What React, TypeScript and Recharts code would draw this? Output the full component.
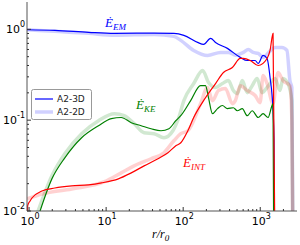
import React from 'react';
import { LineChart, Line, XAxis, YAxis } from 'recharts';

// r / r0 and power for each run (3D = thin, 2D = thick pale)
const R_EM_3D = [0.94, 2.16, 5.92, 12.8, 41.9, 75.7, 102, 154, 184, 227, 263, 375, 551, 678, 859, 940, 1089, 1227, 1341, 1466, 1510, 1530];
const E_EM_3D = [0.99, 0.975, 0.927, 0.903, 0.91, 0.903, 0.859, 0.718, 0.683, 0.796, 0.718, 0.617, 0.491, 0.454, 0.454, 0.421, 0.516, 0.478, 0.295, 0.127, 0.0593, 0.001];

const R_EM_2D = [0.94, 2.16, 5.92, 12.8, 41.9, 75.7, 93.1, 137, 207, 305, 386, 480, 603, 700, 810, 940, 1089, 1300, 1555, 1914, 2220, 2427, 2573, 2690];
const E_EM_2D = [0.99, 0.95, 0.903, 0.859, 0.88, 0.837, 0.756, 0.586, 0.516, 0.557, 0.557, 0.52, 0.557, 0.6, 0.557, 0.543, 0.491, 0.56, 0.633, 0.633, 0.586, 0.273, 0.229, 0.001];

const R_KE_3D = [1.35, 1.98, 2.91, 4.81, 7.96, 11.7, 15.7, 21.2, 28.5, 38.3, 51.5, 65.3, 80.3, 93.1, 125, 168, 195, 213, 240, 279, 323, 375, 448, 504, 585, 678, 787, 940, 1089, 1264, 1422, 1466, 1510];
const E_KE_3D = [0.0093, 0.0226, 0.0385, 0.0641, 0.0869, 0.104, 0.107, 0.0938, 0.0869, 0.0805, 0.0765, 0.0805, 0.0987, 0.112, 0.164, 0.24, 0.24, 0.177, 0.118, 0.134, 0.145, 0.134, 0.137, 0.127, 0.134, 0.112, 0.127, 0.107, 0.118, 0.107, 0.145, 0.152, 0.001];

const R_KE_2D = [1.27, 1.98, 2.91, 4.81, 7.96, 12.8, 17.2, 23.1, 31.1, 41.9, 56.3, 73.5, 87.7, 102, 137, 179, 213, 263, 323, 386, 448, 504, 585, 678, 787, 912, 1057, 1227, 1555, 1803, 1972, 2286, 2573, 2690];
const E_KE_2D = [0.0093, 0.0244, 0.0427, 0.071, 0.0987, 0.118, 0.112, 0.0915, 0.0728, 0.071, 0.0641, 0.0765, 0.107, 0.164, 0.253, 0.352, 0.26, 0.229, 0.253, 0.273, 0.212, 0.196, 0.273, 0.201, 0.24, 0.288, 0.201, 0.229, 0.288, 0.212, 0.288, 0.253, 0.164, 0.001];

const R_INT_3D = [0.94, 0.96, 1.03, 1.09, 1.47, 2.16, 3.58, 5.92, 8.7, 14.4, 21.2, 31.1, 47.1, 63.4, 80.3, 93.1, 115, 137, 184, 263, 333, 435, 551, 603, 741, 940, 1227, 1341, 1466, 1575];
const E_INT_3D = [0.005, 0.0115, 0.0129, 0.0139, 0.0166, 0.0179, 0.0189, 0.0194, 0.0204, 0.0226, 0.0263, 0.0314, 0.0376, 0.0438, 0.0523, 0.0564, 0.0765, 0.107, 0.164, 0.253, 0.335, 0.38, 0.478, 0.478, 0.454, 0.4, 0.478, 0.586, 0.903, 0.001];

const R_INT_2D = [0.94, 1.47, 3.58, 9.51, 15.7, 23.1, 38.3, 56.3, 75.7, 93.1, 115, 168, 207, 240, 287, 353, 435, 475, 551, 678, 859, 997, 1089, 1227, 1466, 1700, 1972, 2427, 2573, 2690];
const E_INT_2D = [0.0136, 0.0154, 0.0175, 0.021, 0.0263, 0.0314, 0.0376, 0.0438, 0.0593, 0.071, 0.0765, 0.152, 0.229, 0.164, 0.212, 0.223, 0.152, 0.164, 0.24, 0.212, 0.187, 0.156, 0.31, 0.253, 0.152, 0.335, 0.273, 0.24, 0.0987, 0.001];

const X_MAJOR = [1, 10, 100, 1000];
const X_MINOR = [2, 3, 4, 5, 6, 7, 8, 9, 20, 30, 40, 50, 60, 70, 80, 90, 200, 300, 400, 500, 600, 700, 800, 900, 2000];
const Y_MAJOR = [0.01, 0.1, 1];
const Y_MINOR = [0.02, 0.03, 0.04, 0.05, 0.06, 0.07, 0.08, 0.09, 0.2, 0.3, 0.4, 0.5, 0.6, 0.7, 0.8, 0.9];

const LEGEND = ['A2-3D', 'A2-2D'];

const pts = (r: number[], e: number[]) => r.map((v, i) => ({ r: v, e: e[i] }));

const BLUE = '#0000ff';
const GREEN = '#008000';
const RED = '#ff0000';
const PALE = 0.18;

const Tick = (props: any) => {
  const { x, y, payload, side, majors } = props;
  const v = payload.value;
  const major = majors.includes(v);
  const len = major ? 4 : 2;
  const exp = Math.round(Math.log10(v));
  const lbl = (
    <>
      10<tspan dy={-6} fontSize={8}>{exp}</tspan>
    </>
  );
  if (side === 'bottom') {
    return (
      <g>
        <line x1={x} y1={y} x2={x} y2={y - len} stroke="#333" />
        {major && (
          <text x={x + 1} y={y + 14} textAnchor="middle" fontSize={11} fontFamily="DejaVu Sans" fill="#000">
            {lbl}
          </text>
        )}
      </g>
    );
  }
  if (side === 'top') return <line x1={x} y1={y} x2={x} y2={y + len} stroke="#333" />;
  if (side === 'left') {
    return (
      <g>
        <line x1={x} y1={y} x2={x + len} y2={y} stroke="#333" />
        {major && (
          <text x={x - 2} y={y + 4} textAnchor="end" fontSize={11} fontFamily="DejaVu Sans" fill="#000">
            {lbl}
          </text>
        )}
      </g>
    );
  }
  return <line x1={x} y1={y} x2={x - len} y2={y} stroke="#333" />;
};

const xTicks = [...X_MAJOR, ...X_MINOR].sort((a, b) => a - b);
const yTicks = [...Y_MAJOR, ...Y_MINOR].sort((a, b) => a - b);

const serif = 'Liberation Serif';

export default function App() {
  return (
    <div style={{ position: 'relative', width: 300, height: 245, background: '#fff' }}>
      <style>{'body{margin:0}'}</style>
      <LineChart width={300} height={245} margin={{ top: 2, right: 3, bottom: 0, left: 0 }}>
        <XAxis
          xAxisId="b"
          dataKey="r"
          type="number"
          scale="log"
          domain={[0.94, 3000]}
          allowDataOverflow
          ticks={xTicks}
          interval={0}
          height={34}
          tickSize={0}
          tickMargin={0}
          tickLine={false}
          axisLine={{ stroke: '#555' }}
          tick={(p: any) => <Tick {...p} side="bottom" majors={X_MAJOR} />}
        />
        <XAxis
          xAxisId="t"
          orientation="top"
          type="number"
          scale="log"
          domain={[0.94, 3000]}
          allowDataOverflow
          ticks={xTicks}
          interval={0}
          height={0}
          tickSize={0}
          tickMargin={0}
          tickLine={false}
          axisLine={{ stroke: '#555' }}
          tick={(p: any) => <Tick {...p} side="top" majors={X_MAJOR} />}
        />
        <YAxis
          yAxisId="l"
          type="number"
          scale="log"
          domain={[0.01, 2]}
          allowDataOverflow
          ticks={yTicks}
          interval={0}
          width={27}
          tickSize={0}
          tickMargin={0}
          tickLine={false}
          axisLine={{ stroke: '#555' }}
          tick={(p: any) => <Tick {...p} side="left" majors={Y_MAJOR} />}
        />
        <YAxis
          yAxisId="r"
          orientation="right"
          type="number"
          scale="log"
          domain={[0.01, 2]}
          allowDataOverflow
          ticks={yTicks}
          interval={0}
          width={0}
          tickSize={0}
          tickMargin={0}
          tickLine={false}
          axisLine={{ stroke: '#555' }}
          tick={(p: any) => <Tick {...p} side="right" majors={Y_MAJOR} />}
        />
        {/* 2D runs: thick and pale */}
        <Line xAxisId="b" yAxisId="l" data={pts(R_EM_2D, E_EM_2D)} dataKey="e" type="monotone" stroke={BLUE} strokeOpacity={PALE} strokeWidth={3.5} dot={false} isAnimationActive={false} />
        <Line xAxisId="b" yAxisId="l" data={pts(R_KE_2D, E_KE_2D)} dataKey="e" type="monotone" stroke={GREEN} strokeOpacity={PALE} strokeWidth={3.5} dot={false} isAnimationActive={false} />
        <Line xAxisId="b" yAxisId="l" data={pts(R_INT_2D, E_INT_2D)} dataKey="e" type="monotone" stroke={RED} strokeOpacity={PALE} strokeWidth={3.5} dot={false} isAnimationActive={false} />
        {/* 3D runs */}
        <Line xAxisId="b" yAxisId="l" data={pts(R_EM_3D, E_EM_3D)} dataKey="e" type="monotone" stroke={BLUE} strokeWidth={1.2} dot={false} isAnimationActive={false} />
        <Line xAxisId="b" yAxisId="l" data={pts(R_KE_3D, E_KE_3D)} dataKey="e" type="monotone" stroke={GREEN} strokeWidth={1.2} dot={false} isAnimationActive={false} />
        <Line xAxisId="b" yAxisId="l" data={pts(R_INT_3D, E_INT_3D)} dataKey="e" type="monotone" stroke={RED} strokeWidth={1.2} dot={false} isAnimationActive={false} />
      </LineChart>
      <svg width={300} height={245} style={{ position: 'absolute', left: 0, top: 0, pointerEvents: 'none' }}>
        <text x={105} y={27} fontFamily={serif} fontStyle="italic" fontSize={13} fill={BLUE}>
          Ė<tspan dy={3} fontSize={9}>EM</tspan>
        </text>
        <text x={136} y={109} fontFamily={serif} fontStyle="italic" fontSize={13} fill={GREEN}>
          Ė<tspan dy={3} fontSize={9}>KE</tspan>
        </text>
        <text x={183} y={167} fontFamily={serif} fontStyle="italic" fontSize={13} fill={RED}>
          Ė<tspan dy={3} fontSize={9}>INT</tspan>
        </text>
        <text x={152} y={238} fontFamily={serif} fontStyle="italic" fontSize={12} fill="#000">
          r/r<tspan dy={3} fontSize={9}>0</tspan>
        </text>
        <rect x={31.5} y={89.5} width={60} height={30} rx={2} fill="#fff" stroke="#999" />
        <line x1={35} y1={99} x2={53} y2={99} stroke={BLUE} strokeWidth={1.2} />
        <line x1={35} y1={112} x2={53} y2={112} stroke={BLUE} strokeOpacity={PALE} strokeWidth={3.5} />
        <text x={57} y={102} fontFamily="DejaVu Sans" fontSize={9} fill="#222">{LEGEND[0]}</text>
        <text x={57} y={115} fontFamily="DejaVu Sans" fontSize={9} fill="#222">{LEGEND[1]}</text>
      </svg>
    </div>
  );
}
